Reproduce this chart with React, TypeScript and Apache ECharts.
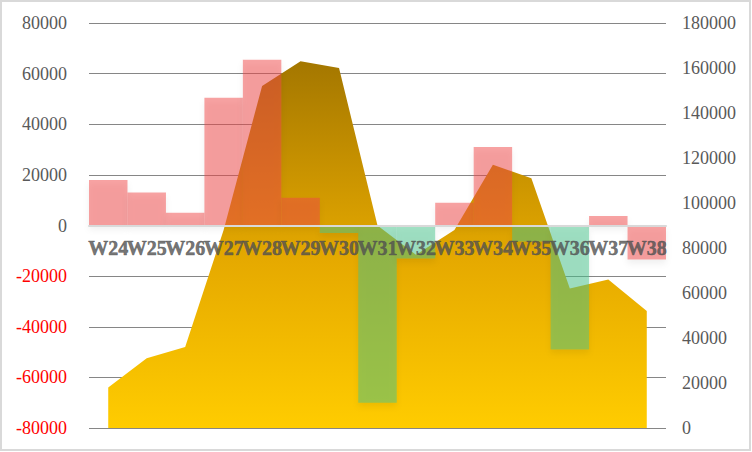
import React, { useEffect, useRef } from "react";
import * as echarts from "echarts";

const categories = ["W24", "W25", "W26", "W27", "W28", "W29", "W30", "W31", "W32", "W33", "W34", "W35", "W36", "W37", "W38"];
const barValues = [18000, 13000, 5000, 50500, 65500, 11000, -3000, -70000, -13000, 9000, 31000, -6300, -49000, 3800, -13400];
const barGroup = ["up", "up", "up", "up", "up", "up", "down", "down", "down", "up", "up", "down", "down", "up", "up"];
const areaValues = [18000, 31000, 36000, 88000, 152000, 163000, 160000, 90000, 77000, 88000, 117000, 111000, 62000, 66000, 52000];
const leftRange = [-80000, 80000];
const rightRange = [0, 180000];
const tickStep = 20000;

const SERIF = "'Times New Roman', 'Liberation Serif', serif";

export default function App() {
  const ref = useRef<HTMLDivElement>(null);
  useEffect(() => {
    if (!ref.current) return;
    const chart = echarts.init(ref.current, null, { renderer: "svg" });
    chart.setOption({
      animation: false,
      backgroundColor: "#ffffff",
      grid: { left: 89, right: 86, top: 23, bottom: 24, containLabel: false, outerBoundsMode: "none" },
      graphic: [
        {
          type: "rect",
          shape: { x: 1, y: 1, width: 749, height: 449 },
          style: { fill: "none", stroke: "#D9D9D9", lineWidth: 2 },
          z: 100,
          silent: true,
        },
      ],
      xAxis: {
        type: "category",
        data: categories,
        boundaryGap: true,
        z: 10,
        axisLine: { show: true, onZero: true, onZeroAxisIndex: 0, lineStyle: { color: "#D9D9D9", width: 2 } },
        axisTick: { show: false },
        axisLabel: { show: false },
        splitLine: { show: false },
      },
      yAxis: [
        {
          type: "value",
          min: leftRange[0],
          max: leftRange[1],
          interval: tickStep,
          z: 0,
          axisLine: { show: false },
          axisTick: { show: false },
          splitLine: { show: true, lineStyle: { color: "#868686", width: 1 } },
          axisLabel: {
            margin: 22,
            fontSize: 18,
            fontFamily: SERIF,
            formatter: (v: number) => String(v),
            color: (v: any) => (Number(v) < 0 ? "#FF0000" : "#595959"),
          },
        },
        {
          type: "value",
          min: rightRange[0],
          max: rightRange[1],
          interval: tickStep,
          z: 0,
          axisLine: { show: false },
          axisTick: { show: false },
          splitLine: { show: false },
          axisLabel: {
            margin: 16,
            fontSize: 18,
            fontFamily: SERIF,
            formatter: (v: number) => String(v),
            color: "#595959",
          },
        },
      ],
      series: [
        {
          type: "line",
          yAxisIndex: 1,
          data: areaValues,
          showSymbol: false,
          symbol: "none",
          lineStyle: { width: 0 },
          areaStyle: {
            opacity: 1,
            color: new echarts.graphic.LinearGradient(0, 0, 0, 1, [
              { offset: 0, color: "#A47700" },
              { offset: 0.3, color: "#C99300" },
              { offset: 0.55, color: "#E6AA00" },
              { offset: 1, color: "#FFCC00" },
            ]),
          },
          z: 2,
        },
        {
          type: "bar",
          yAxisIndex: 0,
          data: barValues,
          barCategoryGap: "0%",
          itemStyle: {
            color: (p: any) => (barGroup[p.dataIndex] === "up" ? "rgba(240,72,72,0.5)" : "rgba(70,195,140,0.5)"),
            shadowColor: "rgba(0,0,0,0.12)",
            shadowBlur: 6,
            shadowOffsetY: 4,
          },
          z: 3,
        },
        {
          type: "scatter",
          yAxisIndex: 0,
          data: categories.map((c) => [c, 0]),
          symbolSize: 0,
          silent: true,
          z: 20,
          label: {
            show: true,
            position: "bottom",
            distance: 12,
            formatter: (p: any) => categories[p.dataIndex],
            color: "#505050",
            textBorderColor: "#505050",
            textBorderWidth: 0.5,
            fontSize: 20,
            fontWeight: "bold",
            fontFamily: SERIF,
          },
        },
      ],
    });
    return () => chart.dispose();
  }, []);
  return (
    <div
      ref={ref}
      style={{ position: "fixed", left: 0, top: 0, width: 752, height: 452 }}
    />
  );
}
